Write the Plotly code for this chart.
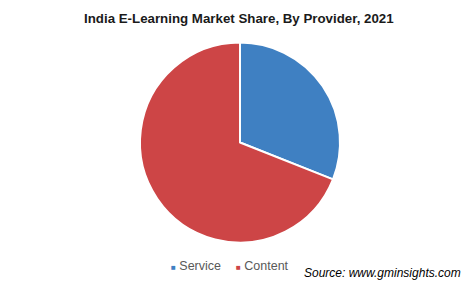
import plotly.graph_objects as go

labels = ["Service", "Content"]
values = [31, 69]
colors = ["#3F80C2", "#CD4546"]

fig = go.Figure()
fig.add_trace(go.Pie(
    labels=labels, values=values, sort=False, direction="clockwise", rotation=0,
    marker=dict(colors=colors, line=dict(color="white", width=2)),
    textinfo="none", hoverinfo="label+percent", showlegend=False,
    domain=dict(x=[140/473, 340/473], y=[44/287, 245/287]),
))

fig.add_annotation(x=239/473, y=1 - 18/287, xref="paper", yref="paper",
                   text="<b>India E-Learning Market Share, By Provider, 2021</b>",
                   showarrow=False, font=dict(family="Liberation Sans, Arial", size=13.3, color="#1a1a1a"),
                   xanchor="center", yanchor="middle")

legend_x = [169, 234]
for lab, col, lx in zip(labels, colors, legend_x):
    fig.add_annotation(x=lx/473, y=1 - 266/287, xref="paper", yref="paper",
                       text=f"<span style='color:{col};font-size:8px'>■</span> {lab}",
                       showarrow=False, font=dict(family="Liberation Sans, Arial", size=12.5, color="#595959"),
                       xanchor="left", yanchor="middle")

fig.add_annotation(x=463/473, y=1 - 273/287, xref="paper", yref="paper",
                   text="<i>Source: www.gminsights.com</i>",
                   showarrow=False, font=dict(family="Liberation Sans, Arial", size=12, color="#000000"),
                   xanchor="right", yanchor="middle")

fig.update_layout(width=473, height=287, margin=dict(l=0, r=0, t=0, b=0),
                  paper_bgcolor="white", plot_bgcolor="white")
fig.write_html("out.html")
